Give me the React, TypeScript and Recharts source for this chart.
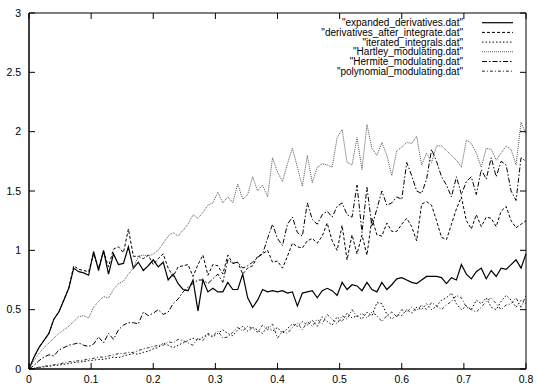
import React from "react";
import { LineChart, Line, XAxis, YAxis } from "recharts";

// samples are taken every 0.008 on x, from 0 to 0.8
const X_STEP = 0.008;
const X_MAX = 0.8;
const Y_MAX = 3;
const X_TICKS = [0, 0.1, 0.2, 0.3, 0.4, 0.5, 0.6, 0.7, 0.8];
const Y_TICKS = [0, 0.5, 1, 1.5, 2, 2.5, 3];

const expandedDerivatives = [
  0, 0.1, 0.18, 0.24, 0.3, 0.42, 0.48, 0.58, 0.68, 0.85,
  0.82, 0.81, 0.79, 0.99, 0.83, 1.0, 0.8, 0.97, 0.88, 0.89,
  1.03, 0.85, 0.9, 0.83, 0.87, 0.92, 0.86, 0.9, 0.75, 0.8,
  0.72, 0.67, 0.66, 0.75, 0.49, 0.75, 0.65, 0.68, 0.65, 0.65,
  0.73, 0.67, 0.67, 0.8, 0.6, 0.52, 0.58, 0.67, 0.65, 0.66,
  0.65, 0.66, 0.64, 0.65, 0.53, 0.64, 0.65, 0.66, 0.6, 0.66,
  0.68, 0.66, 0.62, 0.73, 0.67, 0.71, 0.7, 0.66, 0.73, 0.67,
  0.65, 0.73, 0.67, 0.71, 0.76, 0.77, 0.75, 0.73, 0.72, 0.75,
  0.78, 0.78, 0.78, 0.77, 0.72, 0.77, 0.75, 0.88, 0.8, 0.76,
  0.82, 0.85, 0.76, 0.83, 0.78, 0.85, 0.84, 0.88, 0.92, 0.85, 0.97,
];

const derivativesAfterIntegrate = [
  0, 0.1, 0.18, 0.24, 0.3, 0.42, 0.48, 0.58, 0.68, 0.87,
  0.84, 0.83, 0.82, 0.97, 0.85, 0.99, 0.86, 1.01, 1.03, 0.98,
  1.18, 0.95, 0.95, 0.93, 0.96, 0.88, 0.93, 0.97, 0.85, 0.78,
  0.86, 0.87, 0.88, 0.78, 0.88, 0.96, 0.79, 0.88, 0.87, 0.8,
  0.96, 0.89, 0.9, 0.8, 0.85, 0.87, 0.95, 0.97, 1.0, 0.9,
  0.91, 0.85, 0.95, 1.06, 1.03, 1.02, 1.08, 1.1, 1.06, 1.12,
  1.23, 1.08, 1.0, 1.21, 0.92, 1.13, 0.97, 1.13, 0.96, 1.27,
  1.13, 1.12, 1.23, 1.16, 1.16, 1.22, 1.27, 1.2, 1.08, 1.39,
  1.41, 1.38, 1.25, 1.11, 1.09, 1.22, 1.35, 1.45, 1.25, 1.18,
  1.3, 1.2, 1.28, 1.27, 1.2, 1.33, 1.37, 1.25, 1.19, 1.22, 1.25,
];

const iteratedIntegrals = [
  0, 0.005, 0.012, 0.018, 0.022, 0.03, 0.033, 0.04, 0.045, 0.055,
  0.058, 0.062, 0.07, 0.075, 0.08, 0.082, 0.09, 0.1, 0.095, 0.11,
  0.12, 0.13, 0.125, 0.14, 0.15, 0.17, 0.18, 0.22, 0.2, 0.18,
  0.2, 0.22, 0.24, 0.26, 0.24, 0.27, 0.29, 0.27, 0.3, 0.33,
  0.3, 0.28, 0.33, 0.36, 0.32, 0.35, 0.33, 0.3, 0.36, 0.32,
  0.35, 0.3, 0.34, 0.38, 0.36, 0.4, 0.37, 0.41, 0.36, 0.44,
  0.4, 0.37, 0.44, 0.4, 0.47, 0.43, 0.45, 0.42, 0.48, 0.45,
  0.56, 0.55, 0.46, 0.42, 0.46, 0.45, 0.5, 0.47, 0.52, 0.5,
  0.55, 0.5, 0.53, 0.58, 0.6, 0.64, 0.55, 0.5, 0.53, 0.5,
  0.58, 0.55, 0.6, 0.52, 0.5, 0.57, 0.62, 0.58, 0.52, 0.58, 0.55,
];

const hartleyModulating = [
  0, 0.07, 0.13, 0.18, 0.22, 0.26, 0.3, 0.33, 0.36, 0.4,
  0.44, 0.45, 0.43, 0.52, 0.57, 0.61, 0.6, 0.67, 0.72, 0.74,
  0.8, 0.85, 0.95, 0.96, 0.95, 0.97, 1.0, 1.06, 1.12, 1.15,
  1.12, 1.17, 1.22, 1.3, 1.27, 1.32, 1.38, 1.4, 1.49, 1.4,
  1.45, 1.4, 1.56, 1.43, 1.47, 1.62, 1.5, 1.55, 1.45, 1.78,
  1.66, 1.58, 1.73, 1.86, 1.7, 1.54, 1.8, 1.57, 1.7, 1.73,
  1.72, 1.7, 1.95, 2.02, 1.74, 1.72, 1.95, 1.68, 2.06, 1.86,
  1.8, 1.91, 1.8, 1.63, 1.84, 1.87, 1.91, 1.9, 1.96, 1.72,
  1.82, 1.74, 1.88, 1.88, 1.84, 1.8, 1.76, 1.7, 1.93, 1.9,
  1.82, 1.7, 1.86, 1.85, 1.76, 1.82, 1.88, 1.85, 1.72, 2.08, 1.98,
];

const hermiteModulating = [
  0, 0.03, 0.07, 0.1, 0.12, 0.11, 0.16, 0.18, 0.2, 0.21,
  0.22, 0.2, 0.19, 0.21, 0.27, 0.22, 0.3, 0.25, 0.33, 0.37,
  0.39, 0.39, 0.38, 0.48, 0.45, 0.47, 0.5, 0.46, 0.48, 0.55,
  0.59, 0.65, 0.69, 0.72, 0.75, 0.75, 0.72, 0.76, 0.8, 0.73,
  0.92, 0.89, 0.9, 0.85, 0.87, 0.9, 0.94, 0.97, 1.1, 1.22,
  1.1, 1.04, 1.22, 1.28, 1.15, 1.12, 1.4, 1.26, 1.22, 1.3,
  1.33, 1.28, 1.37, 1.4, 1.3, 1.28, 1.55, 1.15, 1.53, 1.2,
  1.35, 1.5, 1.38, 1.4, 1.45, 1.43, 1.74, 1.63, 1.5, 1.48,
  1.6, 1.85, 1.75, 1.62, 1.55, 1.45, 1.62, 1.47, 1.58, 1.62,
  1.47, 1.68, 1.6, 1.78, 1.62, 1.75, 1.72, 1.5, 1.42, 1.78, 1.75,
];

const polynomialModulating = [
  0, 0.008, 0.015, 0.022, 0.03, 0.035, 0.042, 0.05, 0.06, 0.065,
  0.07, 0.075, 0.085, 0.09, 0.1, 0.1, 0.11, 0.12, 0.13, 0.13,
  0.14, 0.14, 0.155, 0.17, 0.18, 0.19, 0.2, 0.2, 0.23, 0.22,
  0.25, 0.24, 0.22, 0.2, 0.26, 0.24, 0.3, 0.28, 0.32, 0.26,
  0.27, 0.31, 0.35, 0.32, 0.36, 0.34, 0.31, 0.37, 0.33, 0.38,
  0.26, 0.32, 0.3, 0.35, 0.39, 0.33, 0.4, 0.36, 0.42, 0.38,
  0.46, 0.42, 0.38, 0.45, 0.42, 0.5, 0.44, 0.47, 0.43, 0.48,
  0.45, 0.4, 0.45, 0.48, 0.44, 0.5, 0.48, 0.52, 0.49, 0.54,
  0.5, 0.56, 0.53, 0.5, 0.54, 0.57, 0.62, 0.6, 0.52, 0.5,
  0.48, 0.52, 0.57, 0.6, 0.55, 0.5, 0.54, 0.55, 0.6, 0.52, 0.62,
];

const SERIES = [
  { key: "expanded", name: '"expanded_derivatives.dat"', values: expandedDerivatives, stroke: "#000", dash: undefined, width: 1.2 },
  { key: "afterIntegrate", name: '"derivatives_after_integrate.dat"', values: derivativesAfterIntegrate, stroke: "#000", dash: "3 2", width: 1 },
  { key: "iterated", name: '"iterated_integrals.dat"', values: iteratedIntegrals, stroke: "#000", dash: "1.5 2", width: 1 },
  { key: "hartley", name: '"Hartley_modulating.dat"', values: hartleyModulating, stroke: "#555", dash: "1 1", width: 1 },
  { key: "hermite", name: '"Hermite_modulating.dat"', values: hermiteModulating, stroke: "#000", dash: "5 2 1.5 2", width: 1 },
  { key: "polynomial", name: '"polynomial_modulating.dat"', values: polynomialModulating, stroke: "#333", dash: "3 2 1 2", width: 1 },
];

const data = expandedDerivatives.map((_, i) => {
  const row: Record<string, number> = { x: +(i * X_STEP).toFixed(3) };
  SERIES.forEach((s) => {
    row[s.key] = s.values[i];
  });
  return row;
});

const FONT = "'Liberation Sans', Arial, Helvetica, sans-serif";

// plot box, matching the chart margins and axis sizes below
const W = 537;
const H = 385;
const MARGIN = { top: 13, right: 11, bottom: 0, left: 0 };
const Y_AXIS_W = 29;
const X_AXIS_H = 16;
const BOX_L = MARGIN.left + Y_AXIS_W;
const BOX_T = MARGIN.top;
const BOX_R = W - MARGIN.right;
const BOX_B = H - MARGIN.bottom - X_AXIS_H;
const TICK = 6;

const sx = (v: number) => BOX_L + (v / X_MAX) * (BOX_R - BOX_L);
const sy = (v: number) => BOX_B - (v / Y_MAX) * (BOX_B - BOX_T);

// frame edges and inward ticks on all four sides, as plain segments
const frameSegments: [number, number, number, number][] = [
  [BOX_L, BOX_T, BOX_R, BOX_T],
  [BOX_R, BOX_T, BOX_R, BOX_B],
  [BOX_L, BOX_B, BOX_R, BOX_B],
  [BOX_L, BOX_T, BOX_L, BOX_B],
  ...X_TICKS.flatMap((t): [number, number, number, number][] => [
    [sx(t), BOX_B, sx(t), BOX_B - TICK],
    [sx(t), BOX_T, sx(t), BOX_T + TICK],
  ]),
  ...Y_TICKS.flatMap((t): [number, number, number, number][] => [
    [BOX_L, sy(t), BOX_L + TICK, sy(t)],
    [BOX_R, sy(t), BOX_R - TICK, sy(t)],
  ]),
];

const Frame = () => (
  <svg
    width={W}
    height={H}
    viewBox={`0 0 ${W} ${H}`}
    style={{ position: "absolute", left: 0, top: 0, zIndex: 10, pointerEvents: "none", overflow: "visible" }}
  >
    {frameSegments.map(([x1, y1, x2, y2], i) => (
      <line key={`f${i}`} x1={x1} y1={y1} x2={x2} y2={y2} stroke="#000" strokeWidth={1} />
    ))}
    {SERIES.map((s, i) => {
      const y = 22.7 + i * 9.7;
      return (
        <g key={s.key}>
          <text x={463} y={y} textAnchor="end" dominantBaseline="central" fontSize={10} fontFamily={FONT} fill="#000">
            {s.name}
          </text>
          <line x1={482} x2={513} y1={y} y2={y} stroke={s.stroke} strokeWidth={s.width} strokeDasharray={s.dash} />
        </g>
      );
    })}
  </svg>
);

export default function App() {
  const tickStyle = { fontSize: 10.5, fill: "#000", fontFamily: FONT };
  return (
    <div style={{ position: "absolute", left: 0, top: 0, width: W, height: H, background: "#fff" }}>
      <LineChart width={W} height={H} data={data} margin={MARGIN}>
        <XAxis
          dataKey="x"
          type="number"
          domain={[0, X_MAX]}
          ticks={X_TICKS}
          height={X_AXIS_H}
          tickSize={-6}
          tickMargin={13}
          tickLine={false}
          stroke="#000"
          tick={tickStyle}
        />
        <YAxis
          type="number"
          domain={[0, Y_MAX]}
          ticks={Y_TICKS}
          width={Y_AXIS_W}
          tickSize={-6}
          tickMargin={14}
          tickLine={false}
          stroke="#000"
          tick={tickStyle}
        />
        {SERIES.map((s) => (
          <Line
            key={s.key}
            dataKey={s.key}
            name={s.name}
            type="linear"
            stroke={s.stroke}
            strokeWidth={s.width}
            strokeDasharray={s.dash}
            dot={false}
            isAnimationActive={false}
          />
        ))}
      </LineChart>
      <Frame />
    </div>
  );
}
